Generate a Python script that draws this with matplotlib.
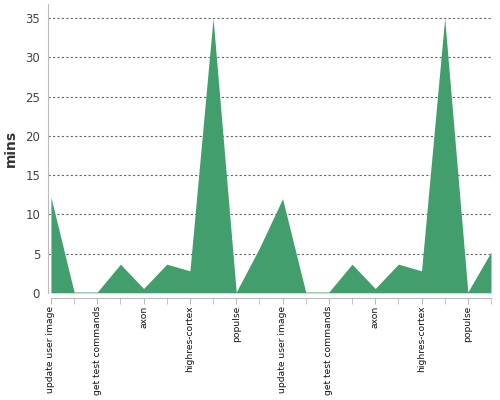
import numpy as np
import matplotlib
matplotlib.use('Agg')
import matplotlib.pyplot as plt

# values (mins per step, two runs of ten steps)
mins = [12.2, 0.1, 0.1, 3.65, 0.55, 3.65, 2.8, 35.0, 0.1, 5.7,
        12.0, 0.1, 0.1, 3.65, 0.55, 3.65, 2.8, 35.0, 0.1, 5.2]
tick_labels = ["update user image", "get test commands", "axon", "highres-cortex", "populse",
               "update user image", "get test commands", "axon", "highres-cortex", "populse"]
y_ticks = [0, 5, 10, 15, 20, 25, 30, 35]

x = np.arange(len(mins))

fig = plt.figure(figsize=(5, 4), dpi=100)
ax = fig.add_axes([0.0954, 0.268, 0.8866, 0.722])

ax.fill_between(x, 0, mins, color="#439e6d", linewidth=0, zorder=2)

ax.set_xlim(-0.14, 19)
ax.set_ylim(0, 36.8)
ax.set_yticks(y_ticks)
ax.yaxis.grid(True, color="#666666", linestyle=(0, (2, 2)), linewidth=0.8, zorder=1)
ax.set_axisbelow(True)

ax.set_xticks(x, minor=True)
ax.set_xticks(x[::2])
ax.set_xticklabels(tick_labels)
ax.tick_params(axis="x", which="both", length=4, color="#bbbbbb", pad=1.5)
ax.tick_params(axis="x", which="major", labelrotation=90, labelsize=6.6, labelcolor="#111111")
ax.tick_params(axis="y", length=0, pad=5.5, labelsize=8.5, labelcolor="#444444")

for side in ["top", "right"]:
    ax.spines[side].set_visible(False)
ax.spines["left"].set_color("#bbbbbb")
ax.spines["bottom"].set_color("#bbbbbb")
ax.spines["bottom"].set_position(("outward", 4))
ax.spines["bottom"].set_bounds(0, 19)

ax.set_ylabel("mins", fontsize=10, fontweight="bold", color="#333333")
ax.yaxis.set_label_coords(-0.067, 0.5)

fig.savefig("out.png", dpi=100)
